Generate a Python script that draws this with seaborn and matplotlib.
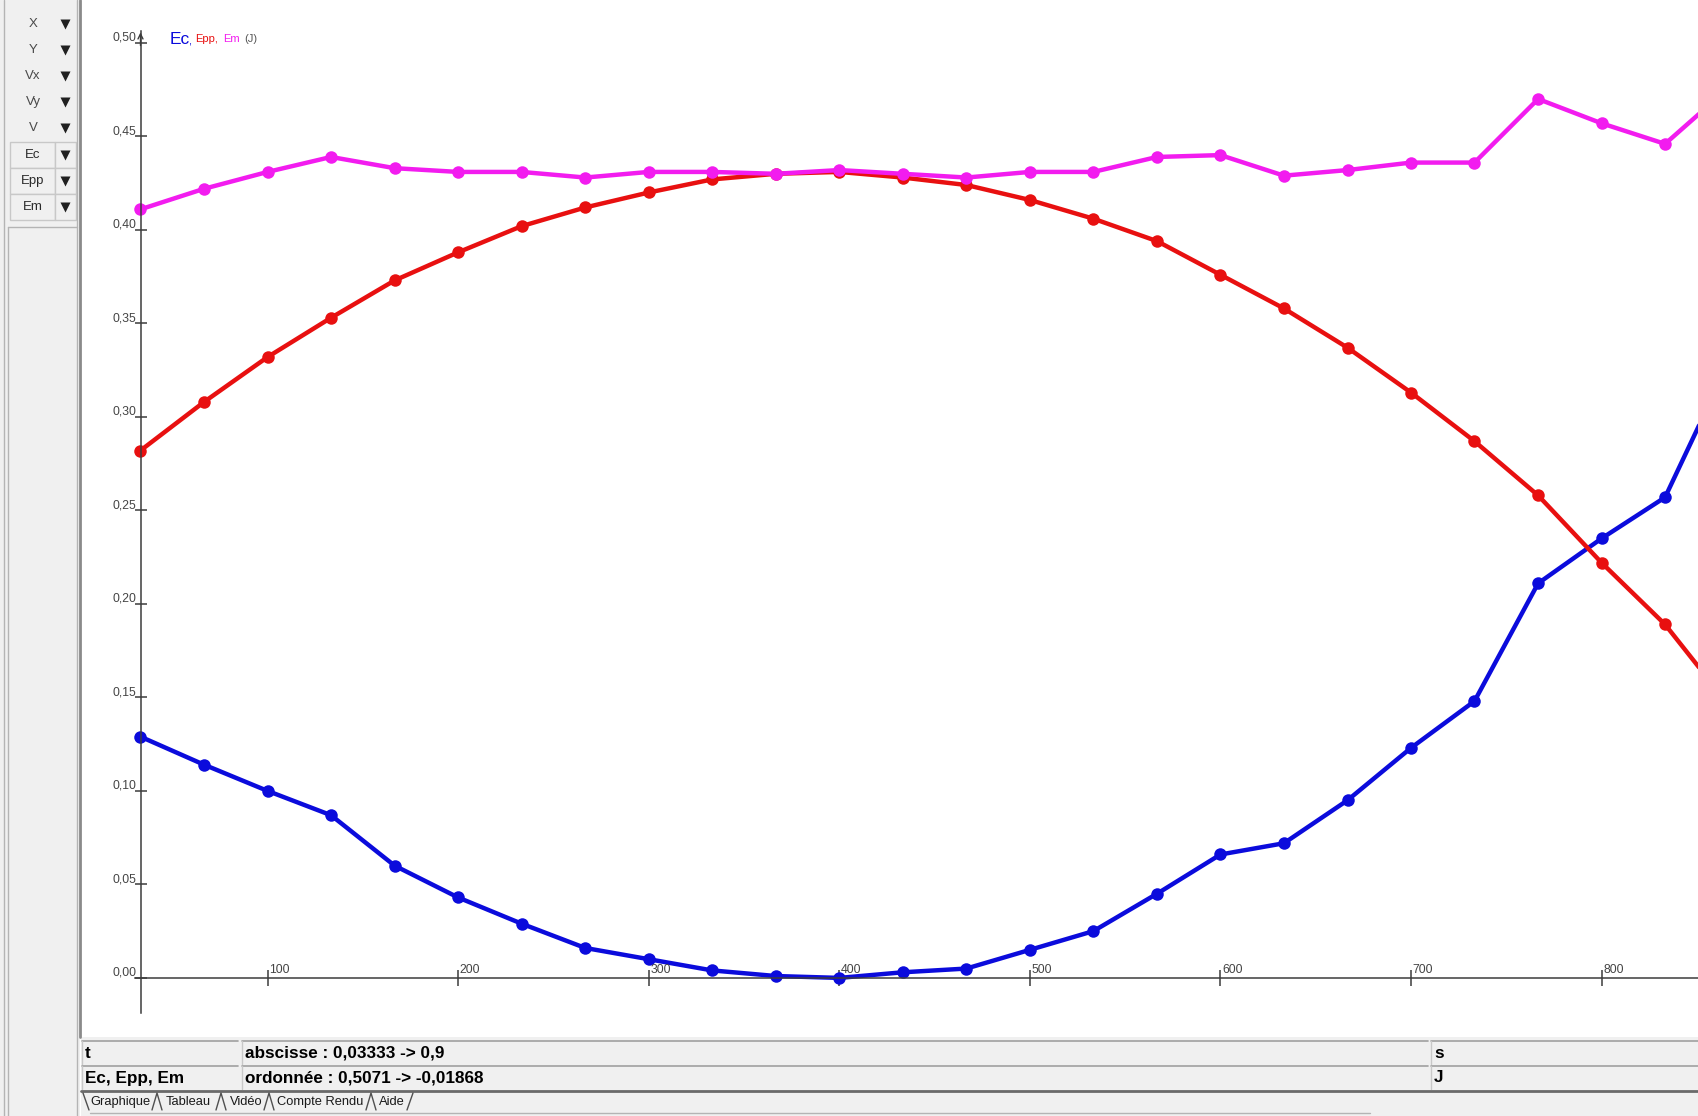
"""
Energy chart (Ec, Epp, Em) as shown in the Aviméca-style window.

Writes out.png (1698x1116).
"""

import matplotlib

matplotlib.use("Agg")
import matplotlib.pyplot as plt
import pandas as pd
import seaborn as sns
from matplotlib.patches import Rectangle
from matplotlib.transforms import offset_copy

sns.set_theme(style="white")
plt.rcParams["font.family"] = ["Liberation Sans", "DejaVu Sans"]

# ---- data (t in ms, energies in J) ----
T_MS = [33.3, 66.7, 100.0, 133.3, 166.7, 200.0, 233.3, 266.7, 300.0, 333.3,
        366.7, 400.0, 433.3, 466.7, 500.0, 533.3, 566.7, 600.0, 633.3, 666.7,
        700.0, 733.3, 766.7, 800.0, 833.3, 866.7]
EC = [0.129, 0.114, 0.100, 0.087, 0.060, 0.043, 0.029, 0.016, 0.010, 0.004,
      0.001, 0.000, 0.003, 0.005, 0.015, 0.025, 0.045, 0.066, 0.072, 0.095,
      0.123, 0.148, 0.211, 0.235, 0.257, 0.329]
EPP = [0.282, 0.308, 0.332, 0.353, 0.373, 0.388, 0.402, 0.412, 0.420, 0.427,
       0.430, 0.431, 0.428, 0.424, 0.416, 0.406, 0.394, 0.376, 0.358, 0.337,
       0.313, 0.287, 0.258, 0.222, 0.189, 0.146]
EM = [0.411, 0.422, 0.431, 0.439, 0.433, 0.431, 0.431, 0.428, 0.431, 0.431,
      0.430, 0.432, 0.430, 0.428, 0.431, 0.431, 0.439, 0.440, 0.429, 0.432,
      0.436, 0.436, 0.470, 0.457, 0.446, 0.476]
SERIES = ["Ec", "Epp", "Em"]
PALETTE = {"Ec": "#0b0bdc", "Epp": "#e81010", "Em": "#f21cef"}

X_TICKS = [100, 200, 300, 400, 500, 600, 700, 800]
Y_TICKS = [0.0, 0.05, 0.10, 0.15, 0.20, 0.25, 0.30, 0.35, 0.40, 0.45, 0.50]
Y_LABELS = ["0,00", "0,05", "0,10", "0,15", "0,20", "0,25", "0,30", "0,35",
            "0,40", "0,45", "0,50"]
T_ORIGIN = 33.33
Y_TOP, Y_BOTTOM = 0.5071, -0.01868
X_LIM = (20, 900)

PANEL_BUTTONS = ["X", "Y", "Vx", "Vy", "V"]
PANEL_BOXES = ["Ec", "Epp", "Em"]
TABS = ["Graphique", "Tableau", "Vidéo", "Compte Rendu", "Aide"]

W, H = 1698, 1116
UI_BG = "#f0f0f0"
AXIS_C = "#3c3c3c"

df = pd.DataFrame({
    "t": T_MS * 3,
    "E": EC + EPP + EM,
    "serie": [s for s in SERIES for _ in T_MS],
})

fig = plt.figure(figsize=(W / 100, H / 100), dpi=100)
fig.patch.set_facecolor("white")

# background axes in pixel coordinates (y downwards) for the window chrome
bg = fig.add_axes([0, 0, 1, 1], zorder=0)
bg.set_xlim(0, W)
bg.set_ylim(H, 0)
bg.axis("off")

# left panel
bg.add_patch(Rectangle((0, 0), 80, H, facecolor=UI_BG, edgecolor="none"))
bg.plot([4, 4], [0, H], color="#b4b4b4", lw=1)
bg.plot([77, 77], [0, H], color="#b4b4b4", lw=1)
bg.plot([80.5, 80.5], [0, 1037], color="#8a8a8a", lw=2)
for i, name in enumerate(PANEL_BUTTONS):
    y = 24 + 26 * i
    bg.text(33, y, name, ha="center", va="center", fontsize=9.5, color="#4a4a4a")
    bg.plot(65, y, marker="v", ms=7, color="#202020", mec="none")
for i, name in enumerate(PANEL_BOXES):
    y0 = 142 + 26 * i
    bg.add_patch(Rectangle((10, y0), 45, 26, facecolor=UI_BG, edgecolor="#c8c8c8", lw=1))
    bg.add_patch(Rectangle((55, y0), 21, 26, facecolor=UI_BG, edgecolor="#c8c8c8", lw=1))
    bg.text(33, y0 + 13, name, ha="center", va="center", fontsize=9.5, color="#2a2a2a")
    bg.plot(65, y0 + 13, marker="v", ms=7, color="#202020", mec="none")
bg.plot([8, 77], [227, 227], color="#b4b4b4", lw=1)
bg.plot([8, 8], [227, H], color="#b4b4b4", lw=1)

# bottom information table and tabs
bg.add_patch(Rectangle((81, 1037), W - 81, H - 1037, facecolor=UI_BG, edgecolor="none"))
cells = [(82, 238), (242, 1428), (1431, W + 5)]
rows = [
    ("t", "abscisse : 0,03333 -> 0,9", "s"),
    ("Ec, Epp, Em", "ordonnée : 0,5071 -> -0,01868", "J"),
]
for r, texts in enumerate(rows):
    y0 = 1041 + 25 * r
    for (x0, x1), txt in zip(cells, texts):
        bg.add_patch(Rectangle((x0, y0), x1 - x0, 23, facecolor=UI_BG,
                               edgecolor="none"))
        bg.plot([x0, x1], [y0, y0], color="#a0a0a0", lw=1.2)
        bg.plot([x0, x0], [y0, y0 + 23], color="#c8c8c8", lw=1)
        bg.text(x0 + 3, y0 + 12, txt, ha="left", va="center", fontsize=12.3,
                fontweight="bold", color="black")
bg.plot([81, W], [1091, 1091], color="#6a6a6a", lw=2)

tab_x = [90, 166, 230, 277, 379]
bg.plot([83, 89], [1093, 1110], color="#505050", lw=1)
for x, name in zip(tab_x, TABS):
    bg.text(x, 1102, name, ha="left", va="center", fontsize=9.3, color="#1a1a1a")
seps = [157, 221, 269, 371]
for sx in seps:
    bg.plot([sx - 5, sx, sx + 5], [1110, 1093, 1110], color="#505050", lw=1)
bg.plot([407, 413], [1110, 1093], color="#505050", lw=1)
bg.plot([90, 1370], [1113, 1113], color="#b4b4b4", lw=1)

# header "Ec, Epp, Em (J)"
bg.text(170, 44, "Ec", fontsize=12.5, color=PALETTE["Ec"], va="baseline")
bg.text(188, 44, ",", fontsize=8, color=PALETTE["Ec"], va="baseline")
bg.text(195, 42, "Epp,", fontsize=8, color=PALETTE["Epp"], va="baseline")
bg.text(223, 42, "Em", fontsize=8, color=PALETTE["Em"], va="baseline")
bg.text(244, 42, "(J)", fontsize=8, color="#555555", va="baseline")

# ---- plot axes, placed so that data sits where the window shows it ----
px_t0, px_t800 = 140.5, 1601.6
sx = (px_t800 - px_t0) / (800 - T_ORIGIN)
left_px = px_t0 - (T_ORIGIN - X_LIM[0]) * sx
right_px = px_t0 + (X_LIM[1] - T_ORIGIN) * sx
py_0, py_05 = 977.9, 42.9
sy = (py_0 - py_05) / 0.5
top_px = py_0 - Y_TOP * sy
bot_px = py_0 - Y_BOTTOM * sy
ax = fig.add_axes([left_px / W, 1 - bot_px / H, (right_px - left_px) / W,
                   (bot_px - top_px) / H], zorder=2)
ax.set_facecolor("none")

sns.lineplot(data=df, x="t", y="E", hue="serie", hue_order=SERIES,
             palette=PALETTE, marker="o", markersize=9, markeredgewidth=0,
             linewidth=3.2, estimator=None, sort=False, legend=False, ax=ax)

ax.set_xlim(*X_LIM)
ax.set_ylim(Y_BOTTOM, Y_TOP)
ax.set_xlabel("")
ax.set_ylabel("")
for side in ("top", "right"):
    ax.spines[side].set_visible(False)
ax.spines["left"].set_position(("data", T_ORIGIN))
ax.spines["bottom"].set_position(("data", 0))
ax.spines["left"].set_bounds(Y_BOTTOM, Y_TOP - 0.001)
ax.spines["bottom"].set_bounds(30.5, X_LIM[1])
for side in ("left", "bottom"):
    ax.spines[side].set_color(AXIS_C)
    ax.spines[side].set_linewidth(1.1)
ax.annotate("", xy=(T_ORIGIN, Y_TOP), xytext=(T_ORIGIN, Y_TOP - 0.01),
            arrowprops=dict(arrowstyle="->", color=AXIS_C, lw=1.0,
                            mutation_scale=9), annotation_clip=False)

ax.set_xticks(X_TICKS)
ax.set_xticklabels([])
ax.set_yticks(Y_TICKS)
ax.set_yticklabels([])
ax.tick_params(axis="x", bottom=True, direction="inout", length=12,
               width=1.1, color=AXIS_C)
ax.tick_params(axis="y", left=True, direction="inout", length=9,
               width=1.1, color=AXIS_C)
ax.grid(False)

x_lab_tr = offset_copy(ax.transData, fig=fig, x=1.5, y=5, units="dots")
for t in X_TICKS:
    ax.text(t, 0, str(t), transform=x_lab_tr, ha="left", va="baseline",
            fontsize=8.8, color="#444444")
y_lab_tr = offset_copy(ax.transData, fig=fig, x=-4, y=2, units="dots")
for v, lab in zip(Y_TICKS, Y_LABELS):
    ax.text(T_ORIGIN, v, lab, transform=y_lab_tr, ha="right", va="baseline",
            fontsize=8.8, color="#444444")

fig.savefig("out.png", dpi=100)
plt.close(fig)
